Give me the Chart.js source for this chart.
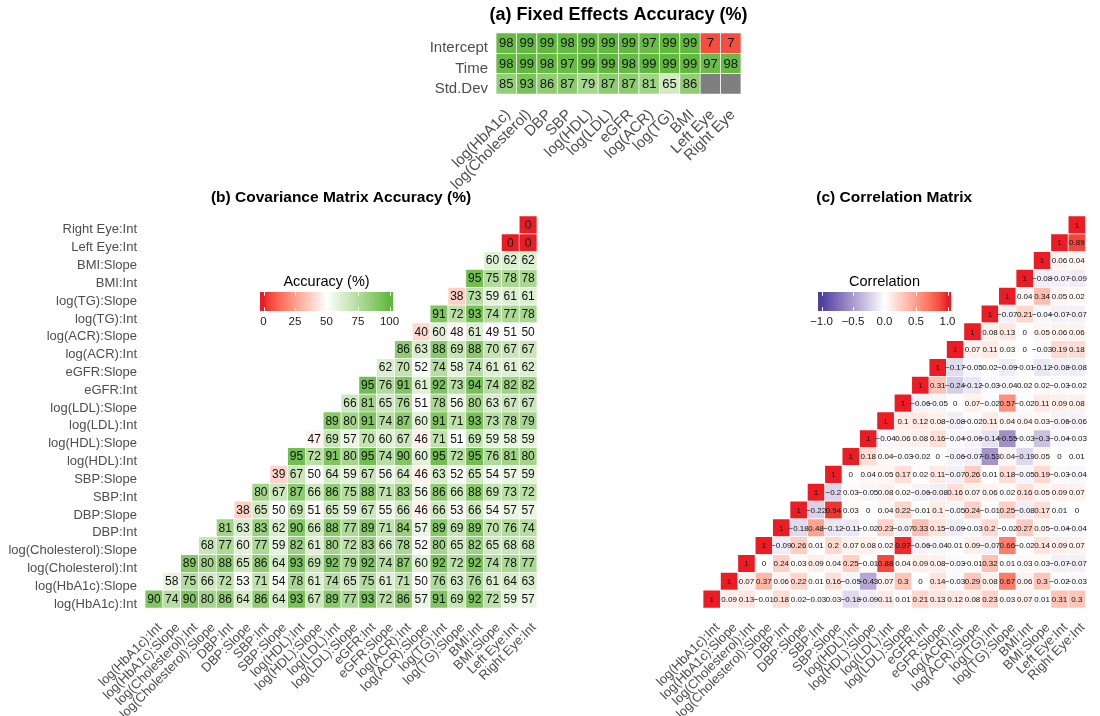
<!DOCTYPE html>
<html>
<head>
<meta charset="utf-8">
<script src="https://cdn.jsdelivr.net/npm/chart.js@4.4.1/dist/chart.umd.min.js"></script>
<style>
  html, body { margin: 0; padding: 0; background: #ffffff; }
  body { width: 1100px; height: 716px; position: relative; overflow: hidden; }
  .panel { position: absolute; }
</style>
</head>
<body>
<div class="panel" style="left:0;top:0;width:780px;height:200px"><canvas id="fixedChart"></canvas></div>
<div class="panel" style="left:0;top:180px;width:560px;height:536px"><canvas id="covChart"></canvas></div>
<div class="panel" style="left:560px;top:180px;width:540px;height:536px"><canvas id="corrChart"></canvas></div>
<script>
// ---------- data ----------
const fixedEffectNames = ["log(HbA1c)", "log(Cholesterol)", "DBP", "SBP", "log(HDL)", "log(LDL)",
  "eGFR", "log(ACR)", "log(TG)", "BMI", "Left Eye", "Right Eye"];
// rows listed bottom to top
const fixedEffectRows = ["Std.Dev", "Time", "Intercept"];
const interceptAccuracy = [98, 99, 99, 98, 99, 99, 99, 97, 99, 99, 7, 7];
const timeAccuracy = [98, 99, 98, 97, 99, 99, 98, 99, 99, 99, 97, 98];
const stdDevAccuracy = [85, 93, 86, 87, 79, 87, 87, 81, 65, 86, null, null];

const paramLabels = ["log(HbA1c):Int", "log(HbA1c):Slope", "log(Cholesterol):Int", "log(Cholesterol):Slope",
  "DBP:Int", "DBP:Slope", "SBP:Int", "SBP:Slope", "log(HDL):Int", "log(HDL):Slope",
  "log(LDL):Int", "log(LDL):Slope", "eGFR:Int", "eGFR:Slope", "log(ACR):Int", "log(ACR):Slope",
  "log(TG):Int", "log(TG):Slope", "BMI:Int", "BMI:Slope", "Left Eye:Int", "Right Eye:Int"];

// row r holds the entries for columns r..21
const covAccuracy = [
  [90, 74, 90, 80, 86, 64, 86, 64, 93, 67, 89, 77, 93, 72, 86, 57, 91, 69, 92, 72, 59, 57],
  [58, 75, 66, 72, 53, 71, 54, 78, 61, 74, 65, 75, 61, 71, 50, 76, 63, 76, 61, 64, 63],
  [89, 80, 88, 65, 86, 64, 93, 69, 92, 79, 92, 74, 87, 60, 92, 72, 92, 74, 78, 77],
  [68, 77, 60, 77, 59, 82, 61, 80, 72, 83, 66, 78, 52, 80, 65, 82, 65, 68, 68],
  [81, 63, 83, 62, 90, 66, 88, 77, 89, 71, 84, 57, 89, 69, 89, 70, 76, 74],
  [38, 65, 50, 69, 51, 65, 59, 67, 55, 66, 46, 66, 53, 66, 54, 57, 57],
  [80, 67, 87, 66, 86, 75, 88, 71, 83, 56, 86, 66, 88, 69, 73, 72],
  [39, 67, 50, 64, 59, 67, 56, 64, 46, 63, 52, 65, 54, 57, 59],
  [95, 72, 91, 80, 95, 74, 90, 60, 95, 72, 95, 76, 81, 80],
  [47, 69, 57, 70, 60, 67, 46, 71, 51, 69, 59, 58, 59],
  [89, 80, 91, 74, 87, 60, 91, 71, 93, 73, 78, 79],
  [66, 81, 65, 76, 51, 78, 56, 80, 63, 67, 67],
  [95, 76, 91, 61, 92, 73, 94, 74, 82, 82],
  [62, 70, 52, 74, 58, 74, 61, 61, 62],
  [86, 63, 88, 69, 88, 70, 67, 67],
  [40, 60, 48, 61, 49, 51, 50],
  [91, 72, 93, 74, 77, 78],
  [38, 73, 59, 61, 61],
  [95, 75, 78, 78],
  [60, 62, 62],
  [0, 0],
  [0]
];

const correlation = [
  [1, 0.09, 0.13, -0.01, 0.18, 0.02, -0.03, 0.03, -0.18, -0.09, 0.11, 0.01, 0.21, 0.13, 0.12, 0.08, 0.23, 0.03, 0.07, 0.01, 0.31, 0.3],
  [1, 0.07, 0.37, 0.06, 0.22, 0.01, 0.16, -0.05, -0.43, 0.07, 0.3, 0, 0.14, -0.03, 0.29, 0.08, 0.67, 0.06, 0.3, -0.02, -0.03],
  [1, 0, 0.24, 0.03, 0.09, 0.04, 0.25, -0.01, 0.88, 0.04, 0.09, 0.08, -0.03, -0.01, 0.32, 0.01, 0.03, 0.03, -0.07, -0.07],
  [1, -0.09, 0.26, 0.01, 0.2, 0.07, 0.08, 0.02, 0.97, -0.06, -0.04, 0.01, 0.09, -0.07, 0.66, -0.02, 0.14, 0.09, 0.07],
  [1, -0.18, 0.48, -0.12, -0.11, -0.02, 0.23, -0.07, 0.33, 0.15, -0.09, -0.03, 0.2, -0.02, 0.27, 0.05, -0.04, -0.04],
  [1, -0.22, 0.94, 0.03, 0, 0.04, 0.22, -0.01, 0.1, -0.05, 0.24, -0.01, 0.25, -0.08, 0.17, 0.01, 0],
  [1, -0.2, 0.03, -0.05, 0.08, 0.02, -0.06, -0.08, 0.16, 0.07, 0.06, 0.02, 0.16, 0.05, 0.09, 0.07],
  [1, 0, 0.04, 0.05, 0.17, 0.02, 0.11, -0.07, 0.26, 0.01, 0.18, -0.05, 0.19, -0.03, -0.04],
  [1, 0.18, 0.04, -0.03, -0.02, 0, -0.06, -0.07, -0.53, 0.04, -0.19, 0.05, 0, 0.01],
  [1, -0.04, 0.06, 0.08, 0.16, -0.04, -0.06, -0.14, -0.55, -0.03, -0.3, -0.04, -0.03],
  [1, 0.1, 0.12, 0.08, -0.08, -0.02, 0.11, 0.04, 0.04, 0.03, -0.06, -0.06],
  [1, -0.06, -0.05, 0, 0.07, -0.02, 0.57, -0.02, 0.11, 0.09, 0.08],
  [1, 0.31, -0.24, -0.12, -0.03, -0.04, 0.02, 0.02, -0.03, -0.02],
  [1, -0.17, -0.05, 0.02, -0.09, -0.01, -0.12, -0.08, -0.08],
  [1, 0.07, 0.11, 0.03, 0, -0.03, 0.19, 0.18],
  [1, 0.08, 0.13, 0, 0.05, 0.06, 0.06],
  [1, -0.07, 0.21, -0.04, -0.07, -0.07],
  [1, 0.04, 0.34, 0.05, 0.02],
  [1, -0.08, -0.07, -0.09],
  [1, 0.06, 0.04],
  [1, 0.89],
  [1]
];

const accuracyTicks = [0, 25, 50, 75, 100];
const correlationTicks = [-1, -0.5, 0, 0.5, 1];

// ---------- colour scales (interpolated in CIE Lab) ----------
const ACC_LOW = "#ec1c24", ACC_MID = "#ffffff", ACC_HIGH = "#5fb83c";
const COR_LOW = "#4f3f9c", COR_MID = "#ffffff", COR_HIGH = "#ec1c24";
const NA_COLOUR = "#7f7f7f";

function hexToRgb(h) {
  const n = parseInt(h.slice(1), 16);
  return [(n >> 16) & 255, (n >> 8) & 255, n & 255];
}
function toLinear(c) { c /= 255; return c <= 0.04045 ? c / 12.92 : Math.pow((c + 0.055) / 1.055, 2.4); }
function fromLinear(c) {
  const v = c <= 0.0031308 ? 12.92 * c : 1.055 * Math.pow(c, 1 / 2.4) - 0.055;
  return Math.max(0, Math.min(255, Math.round(v * 255)));
}
const WX = 0.95047, WY = 1.0, WZ = 1.08883, D = 6 / 29;
function labF(t) { return t > D * D * D ? Math.cbrt(t) : t / (3 * D * D) + 4 / 29; }
function labFi(t) { return t > D ? t * t * t : 3 * D * D * (t - 4 / 29); }
function rgbToLab(rgb) {
  const [r, g, b] = rgb.map(toLinear);
  const X = 0.4124564 * r + 0.3575761 * g + 0.1804375 * b;
  const Y = 0.2126729 * r + 0.7151522 * g + 0.0721750 * b;
  const Z = 0.0193339 * r + 0.1191920 * g + 0.9503041 * b;
  const fx = labF(X / WX), fy = labF(Y / WY), fz = labF(Z / WZ);
  return [116 * fy - 16, 500 * (fx - fy), 200 * (fy - fz)];
}
function labToRgb(lab) {
  const fy = (lab[0] + 16) / 116, fx = fy + lab[1] / 500, fz = fy - lab[2] / 200;
  const X = WX * labFi(fx), Y = WY * labFi(fy), Z = WZ * labFi(fz);
  const r = 3.2404542 * X - 1.5371385 * Y - 0.4985314 * Z;
  const g = -0.9692660 * X + 1.8760108 * Y + 0.0415560 * Z;
  const b = 0.0556434 * X - 0.2040259 * Y + 1.0572252 * Z;
  return [fromLinear(r), fromLinear(g), fromLinear(b)];
}
function divergingScale(low, mid, high) {
  const stops = [low, mid, high].map(c => rgbToLab(hexToRgb(c)));
  return function (t) {
    t = Math.max(0, Math.min(1, t));
    const a = t < 0.5 ? stops[0] : stops[1];
    const b = t < 0.5 ? stops[1] : stops[2];
    const u = t < 0.5 ? t / 0.5 : (t - 0.5) / 0.5;
    const rgb = labToRgb([0, 1, 2].map(k => a[k] + (b[k] - a[k]) * u));
    return "rgb(" + rgb.join(",") + ")";
  };
}
const accuracyRamp = divergingScale(ACC_LOW, ACC_MID, ACC_HIGH);
const correlationRamp = divergingScale(COR_LOW, COR_MID, COR_HIGH);
const accuracyColour = v => v === null ? NA_COLOUR : accuracyRamp(v / 100);
const correlationColour = v => correlationRamp((v + 1) / 2);

// ---------- shared styling ----------
const FONT = "'Liberation Sans', Arial, Helvetica, sans-serif";
const AXIS_GREY = "#4d4d4d";
const TEXT_DARK = "#1a1a1a";
const fmtMinus = s => String(s).replace("-", "\u2212");

// Floating bars spanning [row-0.5, row+0.5] make up each tile row.
function tileRows(rowValues, nCols, colourFn, firstColOf) {
  return rowValues.map((row, i) => {
    const first = firstColOf(i);
    const cols = Array.from({ length: nCols }, (_, j) => j);
    return {
      data: cols.map(j => j >= first ? [i - 0.5, i + 0.5] : null),
      cellValues: cols.map(j => j >= first ? row[j - first] : undefined),
      backgroundColor: cols.map(j => j >= first ? colourFn(row[j - first]) : "rgba(0,0,0,0)"),
      borderColor: "#ffffff",
      borderWidth: 0.7,
      borderSkipped: false,
      barPercentage: 1,
      categoryPercentage: 1,
      grouped: false
    };
  });
}

function cellTextPlugin(fontSpec, format) {
  return {
    id: "cellText",
    afterDatasetsDraw(chart) {
      const ctx = chart.ctx;
      ctx.save();
      ctx.font = fontSpec;
      ctx.fillStyle = "#111111";
      ctx.textAlign = "center";
      ctx.textBaseline = "middle";
      chart.data.datasets.forEach((ds, i) => {
        chart.getDatasetMeta(i).data.forEach((bar, j) => {
          const v = ds.cellValues[j];
          if (v === null || v === undefined) return;
          ctx.fillText(format(v), bar.x, (bar.y + bar.base) / 2 + 0.5);
        });
      });
      ctx.restore();
    }
  };
}

function panelTitlePlugin(text, fontSpec, gap) {
  return {
    id: "panelTitle",
    afterDraw(chart) {
      const a = chart.chartArea, ctx = chart.ctx;
      ctx.save();
      ctx.font = fontSpec;
      ctx.fillStyle = "#000000";
      ctx.textAlign = "center";
      ctx.textBaseline = "middle";
      ctx.fillText(text, (a.left + a.right) / 2, a.top - gap);
      ctx.restore();
    }
  };
}

function colourBarPlugin(cfg) {
  return {
    id: "colourBar",
    afterDraw(chart) {
      const a = chart.chartArea, ctx = chart.ctx;
      const x0 = a.left + cfg.dx, y0 = a.top + cfg.dy, w = cfg.width, h = cfg.height;
      const inset = 3.5;
      const xa = x0 + inset, xb = x0 + w - inset;
      const pos = v => xa + (v - cfg.min) / (cfg.max - cfg.min) * (xb - xa);
      ctx.save();
      for (let x = 0; x < w; x++) {
        const t = (x0 + x + 0.5 - xa) / (xb - xa);
        ctx.fillStyle = cfg.ramp(t);
        ctx.fillRect(x0 + x, y0, 1.05, h);
      }
      ctx.strokeStyle = "#ffffff";
      ctx.lineWidth = 1;
      cfg.ticks.forEach(v => {
        const x = Math.round(pos(v)) + 0.5;
        ctx.beginPath();
        ctx.moveTo(x, y0); ctx.lineTo(x, y0 + h * 0.2);
        ctx.moveTo(x, y0 + h); ctx.lineTo(x, y0 + h * 0.8);
        ctx.stroke();
      });
      ctx.fillStyle = TEXT_DARK;
      ctx.textAlign = "center";
      ctx.textBaseline = "middle";
      ctx.font = "11.5px " + FONT;
      cfg.ticks.forEach((v, k) => ctx.fillText(cfg.labels[k], pos(v), y0 + h + 11));
      ctx.font = "14.5px " + FONT;
      ctx.fillStyle = "#000000";
      ctx.fillText(cfg.title, x0 + w / 2, y0 - 10);
      ctx.restore();
    }
  };
}

function baseOptions(cfg) {
  return {
    responsive: true,
    maintainAspectRatio: false,
    animation: false,
    events: [],
    layout: { padding: cfg.padding },
    plugins: { legend: { display: false }, tooltip: { enabled: false }, title: { display: false } },
    scales: {
      x: {
        type: "category",
        offset: true,
        grid: { display: false, drawTicks: false },
        border: { display: false },
        ticks: {
          autoSkip: false, minRotation: 45, maxRotation: 45,
          color: AXIS_GREY, font: { family: FONT, size: cfg.xFont },
          padding: cfg.xPad, labelOffset: cfg.xOffset
        },
        afterFit(axis) { axis.height = cfg.xHeight; }
      },
      y: {
        type: "linear",
        min: -0.5,
        max: cfg.rowLabels.length - 0.5,
        grid: { display: false, drawTicks: false },
        border: { display: false },
        afterBuildTicks(axis) { axis.ticks = cfg.rowLabels.map((_, i) => ({ value: i })); },
        ticks: {
          display: cfg.showRowLabels,
          autoSkip: false,
          color: AXIS_GREY, font: { family: FONT, size: cfg.yFont },
          padding: 8, labelOffset: 5,
          callback: v => cfg.rowLabels[v]
        },
        afterFit(axis) { axis.width = cfg.yWidth; }
      }
    }
  };
}

// ---------- (a) fixed effects ----------
new Chart(document.getElementById("fixedChart"), {
  type: "bar",
  data: {
    labels: fixedEffectNames,
    datasets: tileRows([stdDevAccuracy, timeAccuracy, interceptAccuracy], fixedEffectNames.length,
      accuracyColour, () => 0)
  },
  options: baseOptions({
    padding: { left: 0, top: 33, right: 39, bottom: 0 },
    rowLabels: fixedEffectRows, showRowLabels: true,
    yWidth: 496, xHeight: 106, xFont: 15, yFont: 15, xPad: 12, xOffset: 2
  }),
  plugins: [
    cellTextPlugin("13px " + FONT, v => String(v)),
    panelTitlePlugin("(a) Fixed Effects Accuracy (%)", "bold 18px " + FONT, 18)
  ]
});

// ---------- (b) covariance accuracy ----------
new Chart(document.getElementById("covChart"), {
  type: "bar",
  data: {
    labels: paramLabels,
    datasets: tileRows(covAccuracy, paramLabels.length, accuracyColour, i => i)
  },
  options: baseOptions({
    padding: { left: 0, top: 36, right: 23, bottom: 0 },
    rowLabels: paramLabels, showRowLabels: true,
    yWidth: 145, xHeight: 108, xFont: 13, yFont: 13, xPad: 12, xOffset: 6
  }),
  plugins: [
    cellTextPlugin("12px " + FONT, v => String(v)),
    panelTitlePlugin("(b) Covariance Matrix Accuracy (%)", "bold 15.5px " + FONT, 18),
    colourBarPlugin({
      dx: 115, dy: 76, width: 133, height: 19, min: 0, max: 100,
      ramp: accuracyRamp, ticks: accuracyTicks,
      labels: accuracyTicks.map(String), title: "Accuracy (%)"
    })
  ]
});

// ---------- (c) correlation ----------
new Chart(document.getElementById("corrChart"), {
  type: "bar",
  data: {
    labels: paramLabels,
    datasets: tileRows(correlation, paramLabels.length, correlationColour, i => i)
  },
  options: baseOptions({
    padding: { left: 0, top: 36, right: 5, bottom: 0 },
    rowLabels: paramLabels, showRowLabels: false,
    yWidth: 143, xHeight: 108, xFont: 13, yFont: 13, xPad: 12, xOffset: 6
  }),
  plugins: [
    cellTextPlugin("8px " + FONT, v => fmtMinus(v)),
    panelTitlePlugin("(c) Correlation Matrix", "bold 15.5px " + FONT, 18),
    colourBarPlugin({
      dx: 115, dy: 76, width: 133, height: 19, min: -1, max: 1,
      ramp: correlationRamp, ticks: correlationTicks,
      labels: correlationTicks.map(v => fmtMinus(v.toFixed(1))), title: "Correlation"
    })
  ]
});
</script>
</body>
</html>
